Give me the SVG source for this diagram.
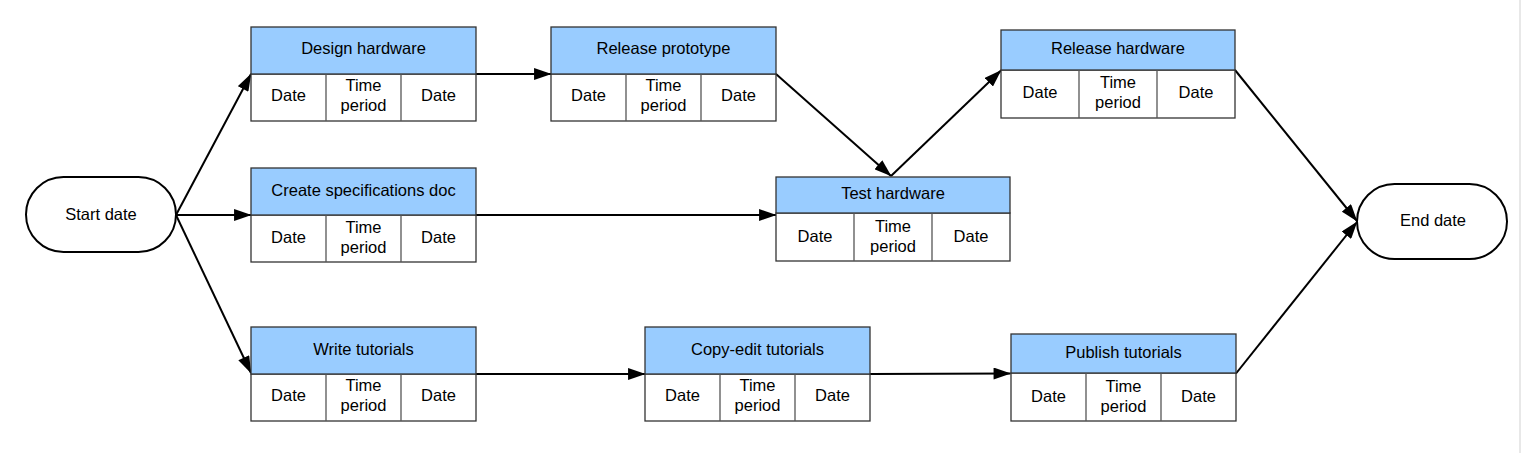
<svg xmlns="http://www.w3.org/2000/svg" width="1522" height="453" viewBox="0 0 1522 453">
<style>
text{font-family:"Liberation Sans",Arial,sans-serif;font-size:16.5px;fill:#000;text-anchor:middle;dominant-baseline:central}
.hdr{fill:#99ccff;stroke:#333;stroke-width:1.3}
.body{fill:#fff;stroke:#333;stroke-width:1.3}
.div{stroke:#555;stroke-width:1.3}
.term{fill:#fff;stroke:#000;stroke-width:2}
.con{fill:none;stroke:#000;stroke-width:2;marker-end:url(#arr)}
</style>
<defs>
<marker id="arr" markerUnits="userSpaceOnUse" markerWidth="18" markerHeight="12" viewBox="0 0 16 11" refX="15.5" refY="5.5" orient="auto">
<path d="M0,0 L16,5.5 L0,11 z" fill="#000"/>
</marker>
</defs>
<rect x="0" y="0" width="1522" height="453" fill="#fff"/>
<line x1="1520" y1="0" x2="1520" y2="453" stroke="#e8e8e8" stroke-width="2"/>

<g id="connectors">
<line class="con" x1="176" y1="215" x2="251" y2="74"/>
<line class="con" x1="176" y1="215" x2="251" y2="215"/>
<line class="con" x1="176" y1="215" x2="251" y2="373"/>
<line class="con" x1="476" y1="74" x2="551" y2="74"/>
<line class="con" x1="776" y1="74" x2="891" y2="176"/>
<line class="con" x1="891" y1="176" x2="1001" y2="70.5"/>
<line class="con" x1="476" y1="215" x2="776" y2="215"/>
<line class="con" x1="1235" y1="70" x2="1357" y2="221"/>
<line class="con" x1="1236" y1="373.5" x2="1357" y2="222"/>
<line class="con" x1="476" y1="374" x2="645" y2="374"/>
<line class="con" x1="870" y1="374" x2="1010.5" y2="373.5"/>
</g>

<g id="start">
<rect class="term" x="26" y="177" width="150" height="75" rx="37.5"/>
<text x="101" y="214">Start date</text>
</g>

<g id="end">
<rect class="term" x="1357" y="184" width="150" height="75" rx="37.5"/>
<text x="1433" y="220">End date</text>
</g>

<g id="design-hardware">
<rect class="body" x="251" y="74" width="225" height="47"/>
<rect class="hdr" x="251" y="27" width="225" height="47"/>
<line class="div" x1="326" y1="74" x2="326" y2="121"/>
<line class="div" x1="401" y1="74" x2="401" y2="121"/>
<text x="363.5" y="48">Design hardware</text>
<text x="288.5" y="95">Date</text>
<text x="363.5" y="85">Time</text>
<text x="363.5" y="105">period</text>
<text x="438.5" y="95">Date</text>
</g>

<g id="release-prototype">
<rect class="body" x="551" y="74" width="225" height="47"/>
<rect class="hdr" x="551" y="27" width="225" height="47"/>
<line class="div" x1="626" y1="74" x2="626" y2="121"/>
<line class="div" x1="701" y1="74" x2="701" y2="121"/>
<text x="663.5" y="48">Release prototype</text>
<text x="588.5" y="95">Date</text>
<text x="663.5" y="85">Time</text>
<text x="663.5" y="105">period</text>
<text x="738.5" y="95">Date</text>
</g>

<g id="create-specs">
<rect class="body" x="251" y="215" width="225" height="47"/>
<rect class="hdr" x="251" y="168" width="225" height="47"/>
<line class="div" x1="326" y1="215" x2="326" y2="262"/>
<line class="div" x1="401" y1="215" x2="401" y2="262"/>
<text x="363.5" y="190">Create specifications doc</text>
<text x="288.5" y="237">Date</text>
<text x="363.5" y="227">Time</text>
<text x="363.5" y="247">period</text>
<text x="438.5" y="237">Date</text>
</g>

<g id="test-hardware">
<rect class="body" x="776" y="213" width="234" height="48"/>
<rect class="hdr" x="776" y="177" width="234" height="36"/>
<line class="div" x1="854" y1="213" x2="854" y2="261"/>
<line class="div" x1="932" y1="213" x2="932" y2="261"/>
<text x="893" y="193">Test hardware</text>
<text x="815" y="236">Date</text>
<text x="893" y="226">Time</text>
<text x="893" y="246">period</text>
<text x="971" y="236">Date</text>
</g>

<g id="release-hardware">
<rect class="body" x="1001" y="70" width="234" height="48"/>
<rect class="hdr" x="1001" y="30" width="234" height="40"/>
<line class="div" x1="1079" y1="70" x2="1079" y2="118"/>
<line class="div" x1="1157" y1="70" x2="1157" y2="118"/>
<text x="1118" y="47.5">Release hardware</text>
<text x="1040" y="92">Date</text>
<text x="1118" y="82">Time</text>
<text x="1118" y="102">period</text>
<text x="1196" y="92">Date</text>
</g>

<g id="write-tutorials">
<rect class="body" x="251" y="374" width="225" height="47"/>
<rect class="hdr" x="251" y="327" width="225" height="47"/>
<line class="div" x1="326" y1="374" x2="326" y2="421"/>
<line class="div" x1="401" y1="374" x2="401" y2="421"/>
<text x="363.5" y="349">Write tutorials</text>
<text x="288.5" y="395">Date</text>
<text x="363.5" y="385">Time</text>
<text x="363.5" y="405">period</text>
<text x="438.5" y="395">Date</text>
</g>

<g id="copy-edit-tutorials">
<rect class="body" x="645" y="374" width="225" height="47"/>
<rect class="hdr" x="645" y="327" width="225" height="47"/>
<line class="div" x1="720" y1="374" x2="720" y2="421"/>
<line class="div" x1="795" y1="374" x2="795" y2="421"/>
<text x="757.5" y="349">Copy-edit tutorials</text>
<text x="682.5" y="395">Date</text>
<text x="757.5" y="385">Time</text>
<text x="757.5" y="405">period</text>
<text x="832.5" y="395">Date</text>
</g>

<g id="publish-tutorials">
<rect class="body" x="1011" y="373" width="225" height="48"/>
<rect class="hdr" x="1011" y="334" width="225" height="39"/>
<line class="div" x1="1086" y1="373" x2="1086" y2="421"/>
<line class="div" x1="1161" y1="373" x2="1161" y2="421"/>
<text x="1123.5" y="352">Publish tutorials</text>
<text x="1048.5" y="396">Date</text>
<text x="1123.5" y="386">Time</text>
<text x="1123.5" y="406">period</text>
<text x="1198.5" y="396">Date</text>
</g>
</svg>
